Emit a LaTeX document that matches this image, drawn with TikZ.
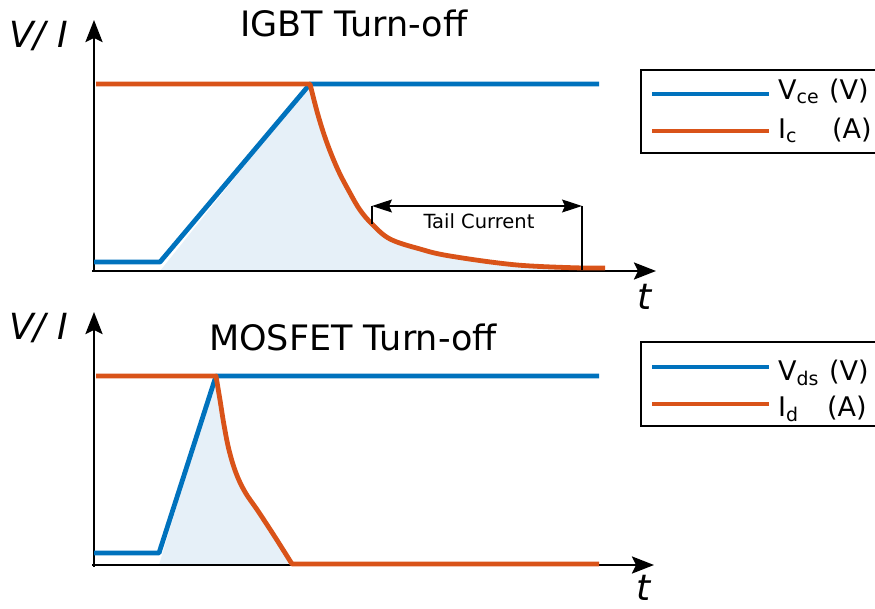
\documentclass[tikz,border=0pt]{standalone}
\usepackage{fontspec}
\setmainfont{DejaVu Sans}
\usetikzlibrary{arrows.meta}
\definecolor{mblue}{RGB}{0,114,189}
\definecolor{morange}{RGB}{217,83,25}
\definecolor{mfill}{RGB}{230,240,248}
\begin{document}
\begin{tikzpicture}[x=1pt,y=-1pt,
  axisline/.style={line width=2.6pt,-{Stealth[length=22pt,width=17pt,inset=4pt]}},
  vcurve/.style={line width=4.8pt,color=mblue,line join=round},
  icurve/.style={line width=4.8pt,color=morange,line join=round},
  areafill/.style={fill=mfill,draw=none},
  legbox/.style={line width=1.4pt,draw=black},
  legtext/.style={anchor=base west,inner sep=0pt,font=\fontsize{27}{30}\selectfont},
  titletext/.style={anchor=base,inner sep=0pt,font=\fontsize{35}{40}\selectfont},
  axlabel/.style={anchor=base west,inner sep=0pt,font=\fontsize{36}{40}\selectfont\itshape},
  dimline/.style={line width=1.2pt,{Stealth[length=20pt,width=13pt,inset=3pt]}-{Stealth[length=20pt,width=13pt,inset=3pt]}},
  tickline/.style={line width=1.2pt}]
\useasboundingbox (0,0) rectangle (875,609);

% ---------------- IGBT ----------------
\coordinate (o1) at (94,272);
\coordinate (ytop1) at (94,20);
\coordinate (xend1) at (656,271);
\fill[areafill] (160,271) --
  plot[smooth,tension=0.6] coordinates {(310,84) (318,115) (327,143) (338,170) (350,193) (360,210) (372,224) (390,239) (420,249) (450,256) (517,265) (583,268)}
  -- (583,271) -- cycle;
\draw[axisline] (o1) -- (ytop1);
\draw[axisline] (92,271) -- (xend1);
\draw[vcurve] (94,262) -- (160,262) -- (310,84) -- (599,84);
\draw[icurve] (96,84) --
  plot[smooth,tension=0.6] coordinates {(310,84) (318,115) (327,143) (338,170) (350,193) (360,210) (372,224) (390,239) (420,249) (450,256) (517,265) (583,268)}
  -- (605,268);
\coordinate (tl) at (372,206);
\coordinate (tr) at (582,206);
\coordinate (tlb) at (372,224);
\coordinate (trb) at (582,270);
\draw[tickline] (tl) -- (tlb);
\draw[tickline] (tr) -- (trb);
\draw[dimline] (tl) -- (tr);
\node[anchor=base,inner sep=0pt,font=\fontsize{19.5}{22}\selectfont] (tail) at (479,228.5) {Tail Current};
\node[titletext] (title1) at (354,37) {IGBT Turn-off};
\node[axlabel] (ylab1) at (9,48) {V/ I};
\node[axlabel] (xlab1) at (637,310) {t};
\draw[legbox] (641,70) rectangle (884,153);
\coordinate (lb1a) at (652,94); \coordinate (lb1b) at (769,94);
\coordinate (lo1a) at (652,131); \coordinate (lo1b) at (769,131);
\draw[line width=4.5pt,mblue] (lb1a) -- (lb1b);
\draw[line width=4.5pt,morange] (lo1a) -- (lo1b);
\node[legtext] (leg1v) at (778,100) {\makebox[51pt][l]{V\textsubscript{ce}}(V)};
\node[legtext] (leg1i) at (778,139) {\makebox[54pt][l]{I\textsubscript{c}}(A)};

% ---------------- MOSFET ----------------
\coordinate (o2) at (94,567);
\coordinate (ytop2) at (94,312);
\coordinate (xend2) at (654,565);
\fill[areafill] (159,565) --
  plot[smooth,tension=0.6] coordinates {(216,376) (220,400) (224,425) (229,450) (236,473) (245,492) (258,511) (275,537) (292,564)}
  -- (292,565) -- cycle;
\draw[axisline] (o2) -- (ytop2);
\draw[axisline] (92,565) -- (xend2);
\draw[vcurve] (94,553) -- (159,553) -- (216,376) -- (599,376);
\draw[icurve] (96,376) --
  plot[smooth,tension=0.6] coordinates {(216,376) (220,400) (224,425) (229,450) (236,473) (245,492) (258,511) (275,537) (292,564)}
  -- (599,564);
\node[titletext] (title2) at (353,350) {MOSFET Turn-off};
\node[axlabel] (ylab2) at (9,340) {V/ I};
\node[axlabel] (xlab2) at (636,600) {t};
\draw[legbox] (641,342) rectangle (884,426);
\coordinate (lb2a) at (652,367); \coordinate (lb2b) at (769,367);
\coordinate (lo2a) at (652,404); \coordinate (lo2b) at (769,404);
\draw[line width=4.5pt,mblue] (lb2a) -- (lb2b);
\draw[line width=4.5pt,morange] (lo2a) -- (lo2b);
\node[legtext] (leg2v) at (778,380) {\makebox[51pt][l]{V\textsubscript{ds}}(V)};
\node[legtext] (leg2i) at (778,416) {\makebox[49pt][l]{I\textsubscript{d}}(A)};
\end{tikzpicture}
\end{document}
